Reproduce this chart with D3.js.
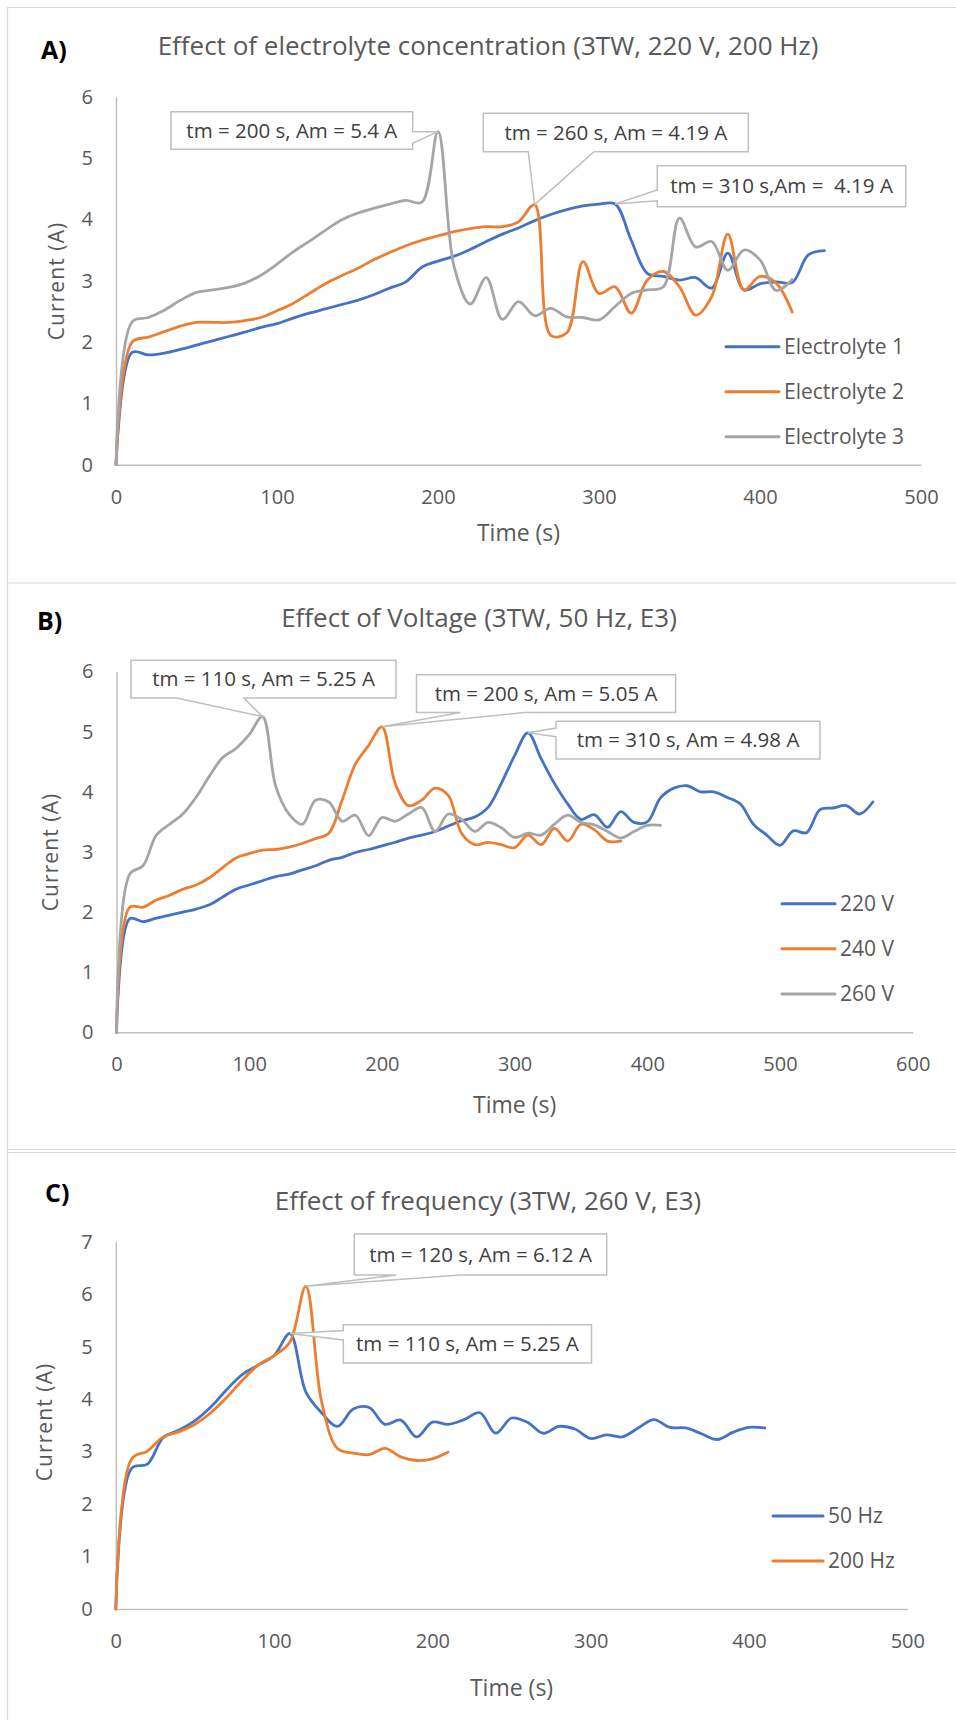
<!DOCTYPE html>
<html>
<head>
<meta charset="utf-8">
<script src="https://cdn.jsdelivr.net/npm/d3@7"></script>
<style>
  body { margin: 0; background: #fff; }
  svg { display: block; font-family: 'Open Sans', sans-serif; }
</style>
</head>
<body>
<svg id="chart" width="956" height="1720"></svg>
<script>
// sampling times (s), one reading every 10 s
let times = [0, 10, 20, 30, 40, 50, 60, 70, 80, 90, 100, 110, 120, 130, 140, 150, 160, 170, 180, 190,
  200, 210, 220, 230, 240, 250, 260, 270, 280, 290, 300, 310, 320, 330, 340, 350, 360, 370, 380, 390,
  400, 410, 420, 430, 440, 450, 460, 470, 480, 490, 500, 510, 520, 530, 540, 550, 560, 570]

// A) electrolyte concentration
let electrolyte1 = [0, 1.83, 1.79, 1.82, 1.88, 1.95, 2.02, 2.09, 2.16, 2.24, 2.30, 2.39, 2.47, 2.54, 2.61,
  2.68, 2.77, 2.88, 2.98, 3.22, 3.32, 3.40, 3.51, 3.64, 3.76, 3.86, 3.98, 4.08, 4.16, 4.22, 4.25, 4.25,
  3.66, 3.12, 3.07, 3.01, 3.05, 2.88, 3.45, 2.85, 2.95, 2.98, 2.97, 3.42, 3.49]
let electrolyte2 = [0, 2.0, 2.08, 2.17, 2.26, 2.32, 2.32, 2.32, 2.35, 2.40, 2.51, 2.63, 2.79, 2.95, 3.08,
  3.20, 3.34, 3.46, 3.57, 3.66, 3.73, 3.80, 3.85, 3.88, 3.88, 3.96, 4.24, 2.11, 2.15, 3.31, 2.79, 2.90,
  2.47, 3.01, 3.15, 2.90, 2.44, 2.74, 3.76, 2.85, 3.07, 2.96, 2.49]
let electrolyte3 = [0, 2.33, 2.40, 2.52, 2.68, 2.81, 2.85, 2.89, 2.96, 3.09, 3.27, 3.47, 3.64, 3.82, 3.99,
  4.10, 4.18, 4.25, 4.31, 4.28, 5.43, 3.23, 2.62, 3.05, 2.37, 2.66, 2.43, 2.55, 2.41, 2.40, 2.36, 2.58,
  2.79, 2.85, 2.90, 4.02, 3.55, 3.64, 3.17, 3.50, 3.34, 2.84, 3.02]
let electrolyteNames = ['Electrolyte 1', 'Electrolyte 2', 'Electrolyte 3']

// B) voltage
let volt220 = [0, 1.89, 1.84, 1.90, 1.95, 2.00, 2.05, 2.12, 2.25, 2.38, 2.45, 2.52, 2.59, 2.63, 2.70,
  2.77, 2.86, 2.91, 2.99, 3.04, 3.10, 3.16, 3.23, 3.28, 3.34, 3.43, 3.52, 3.58, 3.74, 4.14, 4.60, 4.98,
  4.55, 4.14, 3.80, 3.54, 3.62, 3.41, 3.67, 3.49, 3.50, 3.90, 4.06, 4.10, 4.00, 4.00, 3.91, 3.80, 3.46,
  3.28, 3.11, 3.35, 3.32, 3.70, 3.73, 3.77, 3.63, 3.83]
let volt240 = [0, 2.08, 2.08, 2.20, 2.28, 2.38, 2.45, 2.57, 2.74, 2.90, 2.97, 3.03, 3.04, 3.08, 3.14,
  3.22, 3.31, 3.86, 4.46, 4.77, 5.08, 4.14, 3.77, 3.86, 4.06, 3.94, 3.31, 3.12, 3.16, 3.12, 3.07, 3.28,
  3.12, 3.39, 3.18, 3.46, 3.37, 3.18, 3.18]
let volt260 = [0, 2.63, 2.77, 3.28, 3.46, 3.63, 3.91, 4.26, 4.57, 4.72, 4.95, 5.25, 4.09, 3.63, 3.46,
  3.86, 3.83, 3.51, 3.61, 3.27, 3.57, 3.51, 3.63, 3.74, 3.34, 3.63, 3.54, 3.34, 3.49, 3.40, 3.24, 3.31,
  3.28, 3.46, 3.61, 3.49, 3.45, 3.34, 3.23, 3.34, 3.44, 3.44]
let voltNames = ['220 V', '240 V', '260 V']

// C) frequency
let hz50 = [0, 2.68, 2.76, 3.27, 3.41, 3.59, 3.85, 4.18, 4.47, 4.65, 4.83, 5.25, 4.14, 3.74, 3.48,
  3.81, 3.84, 3.52, 3.60, 3.28, 3.56, 3.52, 3.61, 3.74, 3.35, 3.64, 3.56, 3.35, 3.48, 3.43, 3.25, 3.32,
  3.28, 3.45, 3.61, 3.46, 3.45, 3.34, 3.23, 3.37, 3.46, 3.45]
let hz200 = [0, 2.86, 3.01, 3.28, 3.38, 3.52, 3.74, 4.03, 4.36, 4.65, 4.83, 5.09, 6.15, 3.95, 3.06,
  2.97, 2.94, 3.06, 2.90, 2.83, 2.86, 2.99]
let freqNames = ['50 Hz', '200 Hz']

let titles = [
  'Effect of electrolyte concentration (3TW, 220 V, 200 Hz)',
  'Effect of Voltage (3TW, 50 Hz, E3)',
  'Effect of frequency (3TW, 260 V, E3)'
]
let letters = ['A)', 'B)', 'C)']
let xTicks500 = [0, 100, 200, 300, 400, 500]
let xTicks600 = [0, 100, 200, 300, 400, 500, 600]
let yTicks6 = [0, 1, 2, 3, 4, 5, 6]
let yTicks7 = [0, 1, 2, 3, 4, 5, 6, 7]

let calloutTextsA = ['tm = 200 s, Am = 5.4 A', 'tm = 260 s, Am = 4.19 A', 'tm = 310 s,Am =  4.19 A']
let calloutTextsB = ['tm = 110 s, Am = 5.25 A', 'tm = 200 s, Am = 5.05 A', 'tm = 310 s, Am = 4.98 A']
let calloutTextsC = ['tm = 120 s, Am = 6.12 A', 'tm = 110 s, Am = 5.25 A']

let colors = ['#4472c4', '#ed7d31', '#a5a5a5']

let svg = d3.select('#chart')

// panel frames
let frame = svg.append('g').attr('stroke', '#d9d9d9').attr('stroke-width', 1.2).attr('fill', 'none')
frame.append('path').attr('d', 'M956,7.5 H7.5 V1720')
frame.append('path').attr('d', 'M7.5,583 H956')
frame.append('path').attr('d', 'M7.5,1149.5 H956')
frame.append('path').attr('d', 'M7.5,1152.5 H956')

let panels = [
  {
    letter: letters[0], letterPos: [41, 59], title: titles[0], titlePos: [488, 55],
    series: [electrolyte1, electrolyte2, electrolyte3], names: electrolyteNames,
    xTicks: xTicks500, yTicks: yTicks6,
    left: 116, right: 921, top: 96.7, bottom: 464.7,
    xLabelY: 541, yLabelPos: [57, 281],
    legend: { x: 726, y: 346.7, gap: 45, len: 53 },
    callouts: [
      { text: calloutTextsA[0], s: 2, t: 200, box: [171, 111.7, 241.7, 37.6], side: 'right', base: [131.7, 143.3] },
      { text: calloutTextsA[1], s: 1, t: 260, box: [483.3, 113.3, 265, 38.4], side: 'bottom', base: [528.3, 594] },
      { text: calloutTextsA[2], s: 0, t: 310, box: [657.3, 165.7, 248.4, 41], side: 'left', base: [190, 200.7] }
    ]
  },
  {
    letter: letters[1], letterPos: [37, 630], title: titles[1], titlePos: [479, 627],
    series: [volt220, volt240, volt260], names: voltNames,
    xTicks: xTicks600, yTicks: yTicks6,
    left: 116.5, right: 912.7, top: 671.5, bottom: 1032.3,
    xLabelY: 1113, yLabelPos: [51, 852],
    legend: { x: 782, y: 903.7, gap: 45.1, len: 53 },
    callouts: [
      { text: calloutTextsB[0], s: 2, t: 110, box: [131, 660.2, 265, 37.9], side: 'bottom', base: [176.8, 243.9] },
      { text: calloutTextsB[1], s: 1, t: 200, box: [416.5, 674.7, 259.1, 37.9], side: 'bottom', base: [460.4, 524.4] },
      { text: calloutTextsB[2], s: 0, t: 310, box: [556, 721.2, 264, 37.9], side: 'left', base: [728, 736.7] }
    ]
  },
  {
    letter: letters[2], letterPos: [45, 1201.7], title: titles[2], titlePos: [488, 1210],
    series: [hz50, hz200], names: freqNames,
    xTicks: xTicks500, yTicks: yTicks7,
    left: 115.8, right: 907.3, top: 1241.7, bottom: 1609,
    xLabelY: 1696, yLabelPos: [45, 1422],
    legend: { x: 773, y: 1516, gap: 45, len: 50 },
    callouts: [
      { text: calloutTextsC[0], s: 1, t: 120, box: [354.3, 1234, 252.4, 41], side: 'bottom', base: [396.3, 460.4] },
      { text: calloutTextsC[1], s: 0, t: 110, box: [343.3, 1324.7, 248.2, 38.3], side: 'left', base: [1330.5, 1340] }
    ]
  }
]

function calloutPath(c, px, py) {
  let x0 = c.box[0]
  let y0 = c.box[1]
  let x1 = x0 + c.box[2]
  let y1 = y0 + c.box[3]
  let a = c.base[0]
  let b = c.base[1]
  if (c.side === 'bottom') {
    return `M${x0},${y0}H${x1}V${y1}H${b}L${px},${py}L${a},${y1}H${x0}Z`
  }
  if (c.side === 'right') {
    return `M${x0},${y0}H${x1}V${a}L${px},${py}L${x1},${b}V${y1}H${x0}Z`
  }
  return `M${x0},${y0}H${x1}V${y1}H${x0}V${b}L${px},${py}L${x0},${a}Z`
}

panels.forEach(function(p) {
  let xMax = d3.max(p.xTicks)
  let yMax = d3.max(p.yTicks)
  let x = d3.scaleLinear().domain([0, xMax]).range([p.left, p.right])
  let y = d3.scaleLinear().domain([0, yMax]).range([p.bottom, p.top])

  let holder = svg.append('g')

  holder
    .append('text')
    .attr('x', p.letterPos[0])
    .attr('y', p.letterPos[1])
    .attr('font-size', 25)
    .attr('font-weight', 'bold')
    .attr('fill', '#000')
    .text(p.letter)

  holder
    .append('text')
    .attr('x', p.titlePos[0])
    .attr('y', p.titlePos[1])
    .attr('text-anchor', 'middle')
    .attr('font-size', 26)
    .attr('fill', '#595959')
    .text(p.title)

  let xAxis = d3
    .axisBottom(x)
    .tickValues(p.xTicks)
    .tickSize(0)
    .tickPadding(25)
    .tickFormat(d3.format('d'))

  let yAxis = d3
    .axisLeft(y)
    .tickValues(p.yTicks)
    .tickSize(0)
    .tickPadding(23)
    .tickFormat(d3.format('d'))

  holder
    .append('g')
    .attr('transform', `translate(0,${p.bottom})`)
    .call(xAxis)
    .call(g => g.select('.domain').attr('stroke', '#bfbfbf').attr('stroke-width', 1.5))
    .call(g => g.selectAll('text').attr('font-size', 20).attr('fill', '#595959').attr('font-family', 'Open Sans'))

  holder
    .append('g')
    .attr('transform', `translate(${p.left},0)`)
    .call(yAxis)
    .call(g => g.select('.domain').attr('stroke', '#bfbfbf').attr('stroke-width', 1.5))
    .call(g => g.selectAll('text').attr('font-size', 20).attr('fill', '#595959').attr('font-family', 'Open Sans'))

  holder
    .append('text')
    .attr('x', (p.left + p.right) / 2)
    .attr('y', p.xLabelY)
    .attr('text-anchor', 'middle')
    .attr('font-size', 23)
    .attr('fill', '#595959')
    .text('Time (s)')

  holder
    .append('text')
    .attr('transform', `translate(${p.yLabelPos[0]},${p.yLabelPos[1]}) rotate(-90)`)
    .attr('text-anchor', 'middle')
    .attr('dy', '0.35em')
    .attr('font-size', 21)
    .attr('letter-spacing', 1.1)
    .attr('fill', '#595959')
    .text('Current (A)')

  let line = d3
    .line()
    .x(d => x(d[0]))
    .y(d => y(d[1]))
    .curve(d3.curveCatmullRom.alpha(0.5))

  holder
    .selectAll('.series')
    .data(p.series)
    .enter()
    .append('path')
    .attr('class', 'series')
    .attr('d', d => line(d.map((v, i) => [times[i], v])))
    .attr('fill', 'none')
    .attr('stroke', (d, i) => colors[i])
    .attr('stroke-width', 2.8)
    .attr('stroke-linejoin', 'round')
    .attr('stroke-linecap', 'round')

  // legend
  let legend = holder
    .selectAll('.legend')
    .data(p.names)
    .enter()
    .append('g')
    .attr('class', 'legend')
    .attr('transform', (d, i) => `translate(${p.legend.x},${p.legend.y + i * p.legend.gap})`)

  legend
    .append('line')
    .attr('x1', 0)
    .attr('x2', p.legend.len)
    .attr('stroke', (d, i) => colors[i])
    .attr('stroke-width', 3)
    .attr('stroke-linecap', 'round')

  legend
    .append('text')
    .attr('x', p.legend.len + 5)
    .attr('dy', '0.35em')
    .attr('font-size', 21)
    .attr('fill', '#595959')
    .text(d => d)

  // callouts at the peaks
  let callout = holder
    .selectAll('.callout')
    .data(p.callouts)
    .enter()
    .append('g')
    .attr('class', 'callout')

  callout
    .append('path')
    .attr('d', c => {
      let idx = times.indexOf(c.t)
      return calloutPath(c, x(c.t), y(p.series[c.s][idx]))
    })
    .attr('fill', '#fff')
    .attr('stroke', '#bfbfbf')
    .attr('stroke-width', 1.5)
    .attr('stroke-linejoin', 'miter')

  callout
    .append('text')
    .attr('x', c => c.box[0] + c.box[2] / 2)
    .attr('y', c => c.box[1] + c.box[3] / 2)
    .attr('dy', '0.35em')
    .attr('text-anchor', 'middle')
    .attr('font-size', 20.5)
    .attr('fill', '#404040')
    .attr('xml:space', 'preserve')
    .style('white-space', 'pre')
    .text(c => c.text)
})
</script>
</body>
</html>
